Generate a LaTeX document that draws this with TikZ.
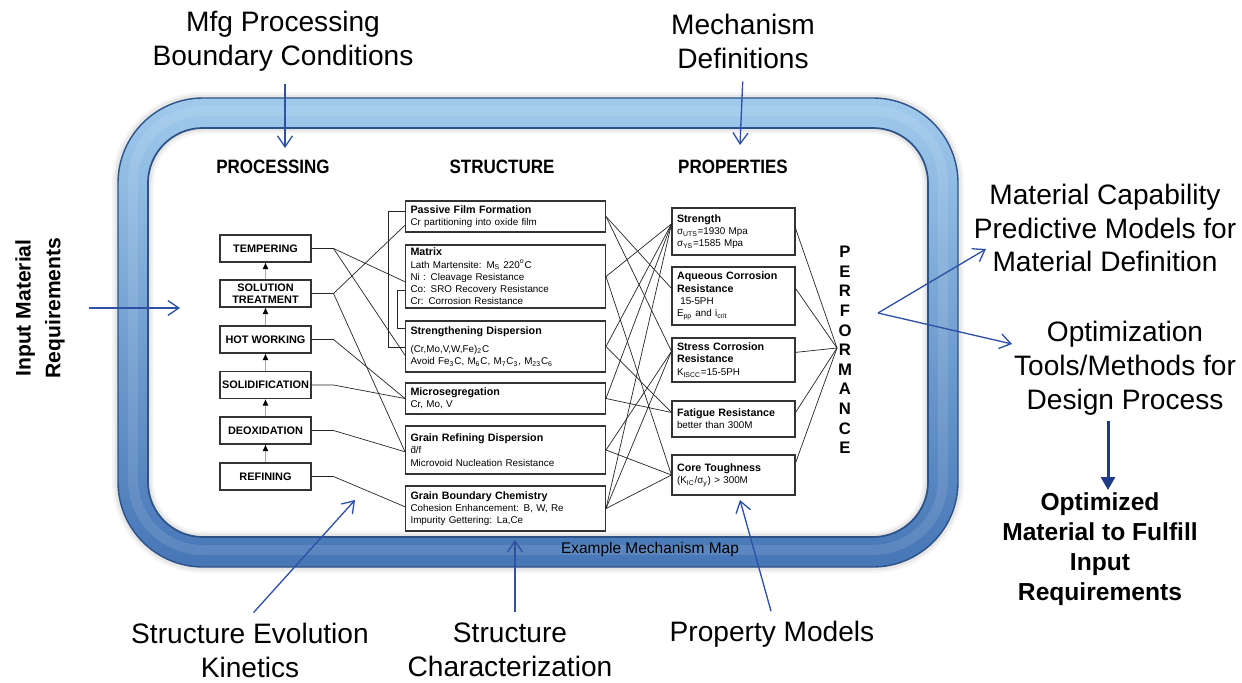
\documentclass[tikz,border=0pt]{standalone}
\usepackage{fontspec}
\setmainfont{Liberation Sans}
\usetikzlibrary{arrows.meta,calc}

\definecolor{arrowblue}{RGB}{46,80,165}
\definecolor{navy}{RGB}{31,58,135}
\definecolor{tubeedge}{RGB}{45,82,135}
\definecolor{tubetop}{RGB}{160,202,236}
\definecolor{tubemid}{RGB}{86,136,200}
\definecolor{tubelow}{RGB}{70,118,182}

\newcommand{\boxtitle}[1]{{\fontsize{6.1}{7}\selectfont\bfseries #1}}
\newcommand{\hdrtext}[1]{\scalebox{0.88}[1]{#1}}

\tikzset{
  procbox/.style={draw=black!80,line width=0.6pt,minimum width=1.82cm,minimum height=0.54cm,
    inner sep=0pt,align=center,font=\bfseries\fontsize{6.2}{6.8}\selectfont},
  strbox/.style={draw=black!80,line width=0.6pt,minimum width=4cm,inner sep=0pt,
    text width=3.8cm,align=left,font=\fontsize{5.6}{7}\selectfont},
  propbox/.style={draw=black!80,line width=0.6pt,minimum width=2.46cm,inner sep=0pt,
    text width=2.26cm,align=left,font=\fontsize{5.6}{7}\selectfont},
  hdr/.style={font=\bfseries\fontsize{11}{13}\selectfont},
  perf/.style={font=\bfseries\fontsize{9.5}{10}\selectfont,inner sep=0pt},
  link/.style={black!85,line width=0.4pt},
  flow/.style={gray!70,line width=0.5pt,-{Latex[length=1.3mm,width=1.2mm,black]}},
  note/.style={align=center,font=\fontsize{16}{19.3}\selectfont},
  inputlbl/.style={align=center,font=\bfseries\fontsize{12}{17}\selectfont,rotate=90},
  result/.style={align=center,font=\bfseries\fontsize{14}{17}\selectfont},
  bluearr/.style={arrowblue,line width=0.75pt,-{Straight Barb[length=2.2mm,width=3mm]}},
  navyarr/.style={navy,line width=1.7pt,-{Triangle[length=2.6mm,width=2.8mm]}},
  tube/.style={rounded corners=1.4cm},
}

\begin{document}
\begin{tikzpicture}[x=0.02cm,y=-0.02cm]
\useasboundingbox (0,0) rectangle (1242,683);

% frame
\fill[white,tube] (133,113) rectangle (943,552);
\draw[black,opacity=0.04,line width=0.84cm,tube] (133,113) rectangle (943,552);
\draw[black,opacity=0.06,line width=0.74cm,tube] (133,113) rectangle (943,552);
\shade[even odd rule,top color=tubetop,middle color=tubemid,bottom color=tubelow]
  [rounded corners=1.7cm] (118,98) rectangle (958,567)
  [rounded corners=1.1cm] (148,128) rectangle (928,537);
\draw[white,opacity=0.1,line width=0.2cm,tube] (133,111) rectangle (943,550);
\draw[tubeedge,line width=0.8pt,rounded corners=1.7cm] (118,98) rectangle (958,567);
\draw[tubeedge,line width=1pt,rounded corners=1.1cm] (148,128) rectangle (928,537);

% column headers
\node[hdr] (hProc) at (273,167) {\hdrtext{PROCESSING}};
\node[hdr] (hStru) at (502,167) {\hdrtext{STRUCTURE}};
\node[hdr] (hProp) at (733,167) {\hdrtext{PROPERTIES}};

% processing steps
\node[procbox] (pTem) at (265.5,248.5) {TEMPERING};
\node[procbox] (pSol) at (265.5,293.5) {SOLUTION\\TREATMENT};
\node[procbox] (pHot) at (265.5,339.5) {HOT WORKING};
\node[procbox] (pSld) at (265.5,385) {SOLIDIFICATION};
\node[procbox] (pDeo) at (265.5,430.5) {DEOXIDATION};
\node[procbox] (pRef) at (265.5,476.5) {REFINING};
\foreach \a/\b in {pRef/pDeo,pDeo/pSld,pSld/pHot,pHot/pSol,pSol/pTem}
  \draw[flow] (\a.north) -- (\b.south);

% structure
\node[strbox,minimum height=0.62cm] (sPas) at (505.5,216.5) {\boxtitle{Passive Film Formation}\\Cr partitioning into oxide film};
\node[strbox,minimum height=1.26cm] (sMat) at (505.5,276.5) {\boxtitle{Matrix}\\Lath Martensite: M\textsubscript{S} 220\textsuperscript{o}C\\Ni : Cleavage Resistance\\Co: SRO Recovery Resistance\\Cr: Corrosion Resistance};
\node[strbox,minimum height=1.02cm] (sSdp) at (505.5,346.5) {\boxtitle{Strengthening Dispersion}\\[3pt](Cr,Mo,V,W,Fe)\textsubscript{2}C\\Avoid Fe\textsubscript{3}C, M\textsubscript{6}C, M\textsubscript{7}C\textsubscript{3}, M\textsubscript{23}C\textsubscript{6}};
\node[strbox,minimum height=0.62cm] (sMic) at (505.5,398.5) {\boxtitle{Microsegregation}\\Cr, Mo, V};
\node[strbox,minimum height=0.96cm] (sGrf) at (505.5,450) {\boxtitle{Grain Refining Dispersion}\\\={d}/f\\Microvoid Nucleation Resistance};
\node[strbox,minimum height=0.9cm] (sGbc) at (505.5,508.5) {\boxtitle{Grain Boundary Chemistry}\\Cohesion Enhancement: B, W, Re\\Impurity Gettering: La,Ce};

% properties
\node[propbox,minimum height=0.94cm] (rStr) at (733.5,231.5) {\boxtitle{Strength}\\σ\textsubscript{UTS}=1930 Mpa\\σ\textsubscript{YS}=1585 Mpa};
\node[propbox,minimum height=1.16cm] (rAqu) at (733.5,296) {\boxtitle{Aqueous Corrosion}\\\boxtitle{Resistance}\\\ 15-5PH\\E\textsubscript{pp} and i\textsubscript{crit}};
\node[propbox,minimum height=0.88cm] (rStc) at (733.5,360) {\boxtitle{Stress Corrosion}\\\boxtitle{Resistance}\\K\textsubscript{ISCC}=15-5PH};
\node[propbox,minimum height=0.72cm] (rFat) at (733.5,419) {\boxtitle{Fatigue Resistance}\\better than 300M};
\node[propbox,minimum height=0.8cm] (rCor) at (733.5,475) {\boxtitle{Core Toughness}\\(K\textsubscript{IC}/σ\textsubscript{y}) > 300M};

% performance
\foreach \ch [count=\i] in {P,E,R,F,O,R,M,A,N,C,E}
  \node[perf] (perf\i) at (845,{232.4+19.6*\i}) {\ch};
\coordinate (perfJoin) at (837,348);

% processing -> structure
\draw[link] (pTem.east) -- ++(22,0) coordinate (jTem) -- (sMat.183);
\draw[link] (jTem) -- (sSdp.185);
\draw[link] (pSol.east) -- ++(22,0) coordinate (jSol) -- (sPas.185);
\draw[link] (jSol) -- (sGrf.181);
\draw[link] (pHot.east) -- ++(22,0) -- (sMic.west);
\draw[link] (pSld.east) -- ++(22,0) -- (sMic.west);
\draw[link] (pDeo.east) -- ++(22,0) -- (sGrf.181);
\draw[link] (pRef.east) -- ++(22,0) -- (sGbc.179);
\draw[link] ($(sPas.west)+(0,-5.5)$) -- ++(-17,0) |- ($(sSdp.west)+(0,0.5)$);
\draw[link] ($(sMat.west)+(0,13.5)$) -- ++(-8,0) |- ($(sSdp.west)+(0,-18.5)$);

% structure -> properties
\foreach \s/\t in {sPas/rAqu.173,sPas/rStc.172,sMat/rStr.173,sMat/rCor.180,
    sSdp/rStr.173,sSdp/rFat.174,sMic/rStr.173,sMic/rFat.174,sGrf/rStc.172,
    sGrf/rCor.180,sGbc/rStr.173,sGbc/rStc.172,sGbc/rCor.180}
  \draw[link] (\s.east) -- (\t);

% properties -> performance
\foreach \n/\a in {rStr/3,rAqu/7,rStc/7,rFat/6,rCor/11}
  \draw[link] (\n.\a) -- (perfJoin);

\node[font=\fontsize{8.8}{10}\selectfont] (mapNote) at (650,549) {Example Mechanism Map};

% outer labels
\node[note] (mfg) at (283,41) {Mfg Processing\\Boundary Conditions};
\node[note] (mech) at (743,41) {Mechanism\\Definitions};
\node[inputlbl] (input) at (40,308) {Input Material\\Requirements};
\node[note] (matCap) at (1105,228) {Material Capability\\Predictive Models for\\Material Definition};
\node[note] (optim) at (1125,368) {Optimization\\Tools/Methods for\\Design Process};
\node[result] (optMat) at (1100,549) {Optimized\\Material to Fulfill\\Input\\Requirements};
\node[note] (strEvo) at (250,650) {Structure Evolution\\Kinetics};
\node[note] (strChar) at (510,650) {Structure\\Characterization};
\node[note] (propMod) at (772,634) {Property Models};

% blue arrows
\coordinate (mfgTip) at (285,148);
\coordinate (mechTip) at (740,145);
\coordinate (inTip) at (180,308);
\coordinate (perfOut) at (878,313);
\coordinate (capTip) at (986,249);
\coordinate (optTip) at (1012,344);
\coordinate (resTip) at (1108,490);
\coordinate (evoTip) at (355,500);
\coordinate (charTip) at (515,540);
\coordinate (modTip) at (740,500);
\draw[bluearr,shorten <=4pt] (mfg.south -| mfgTip) -- (mfgTip);
\draw[bluearr,shorten <=4pt] (mech.south) -- (mechTip);
\draw[bluearr,shorten <=10pt] (input.south) -- (inTip);
\draw[bluearr] (perfOut) -- (capTip);
\draw[bluearr] (perfOut) -- (optTip);
\draw[navyarr] (optim.south -| resTip) -- (resTip);
\draw[bluearr,shorten <=3pt] (strEvo.north) -- (evoTip);
\draw[bluearr,shorten <=3pt] (strChar.north -| charTip) -- (charTip);
\draw[bluearr,shorten <=2pt] (propMod.north) -- (modTip);
\end{tikzpicture}
\end{document}
